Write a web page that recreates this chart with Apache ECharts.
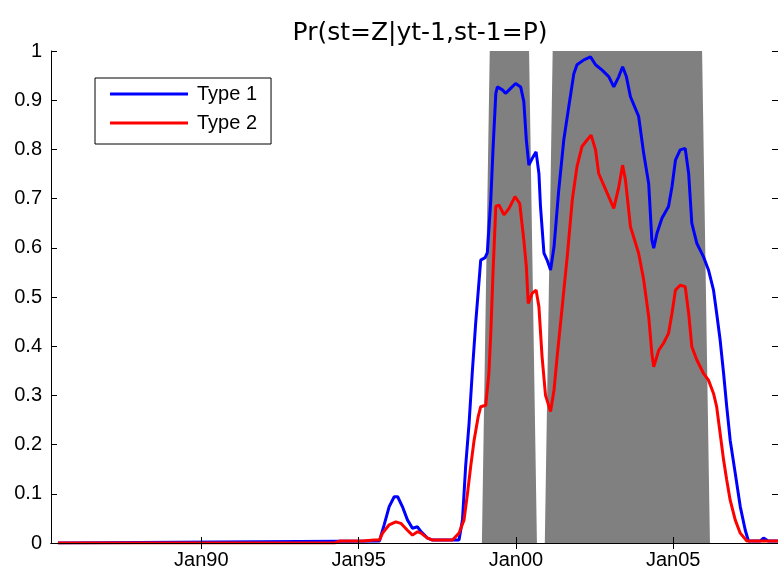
<!DOCTYPE html>
<html>
<head>
<meta charset="utf-8">
<script src="https://cdn.jsdelivr.net/npm/echarts@6/dist/echarts.min.js"></script>
<style>
html,body{margin:0;padding:0;background:#fff;}
#chart{width:778px;height:571px;}
</style>
</head>
<body>
<div id="chart"></div>
<script>
// ---- data (decimal years) ----
const titleText = 'Pr(st=Z|yt-1,st-1=P)';
const seriesNames = ['Type 1', 'Type 2'];
const tickYears = [1990, 1995, 2000, 2005];
const tickLabels = ['Jan90', 'Jan95', 'Jan00', 'Jan05'];

const type1Dates = [1985.44, 1995.66, 1995.81, 1995.97, 1996.13, 1996.24, 1996.39, 1996.55, 1996.71, 1996.87, 1996.98, 1997.19, 1997.35, 1998.09, 1998.19, 1998.30, 1998.40, 1998.51, 1998.61, 1998.72, 1998.83, 1998.88, 1999.02, 1999.09, 1999.20, 1999.27, 1999.36, 1999.41, 1999.57, 1999.67, 1999.83, 1999.99, 2000.15, 2000.25, 2000.33, 2000.41, 2000.52, 2000.64, 2000.73, 2000.78, 2000.89, 2000.99, 2001.10, 2001.21, 2001.36, 2001.52, 2001.68, 2001.84, 2001.94, 2002.16, 2002.37, 2002.53, 2002.74, 2002.95, 2003.11, 2003.27, 2003.39, 2003.51, 2003.64, 2003.90, 2004.06, 2004.22, 2004.32, 2004.38, 2004.48, 2004.64, 2004.85, 2004.96, 2005.07, 2005.22, 2005.38, 2005.49, 2005.59, 2005.75, 2005.96, 2006.12, 2006.28, 2006.38, 2006.49, 2006.60, 2006.70, 2006.81, 2006.97, 2007.13, 2007.29, 2007.39, 2007.76, 2007.87, 2008.02, 2008.33];
const type1Values = [0, 0.004, 0.037, 0.074, 0.094, 0.094, 0.074, 0.047, 0.03, 0.033, 0.023, 0.01, 0.006, 0.006, 0.006, 0.047, 0.155, 0.243, 0.345, 0.447, 0.535, 0.575, 0.58, 0.59, 0.697, 0.799, 0.914, 0.927, 0.921, 0.914, 0.924, 0.934, 0.927, 0.897, 0.819, 0.768, 0.782, 0.795, 0.751, 0.684, 0.589, 0.575, 0.555, 0.602, 0.717, 0.819, 0.887, 0.954, 0.972, 0.982, 0.988, 0.972, 0.961, 0.948, 0.927, 0.948, 0.968, 0.948, 0.907, 0.867, 0.792, 0.73, 0.616, 0.599, 0.629, 0.66, 0.684, 0.724, 0.778, 0.799, 0.802, 0.751, 0.65, 0.609, 0.582, 0.555, 0.514, 0.467, 0.413, 0.345, 0.277, 0.209, 0.142, 0.074, 0.026, 0.004, 0.004, 0.01, 0.004, 0.004];

const type2Dates = [1985.44, 1994.23, 1994.39, 1995.12, 1995.50, 1995.66, 1995.76, 1995.97, 1996.18, 1996.34, 1996.55, 1996.71, 1996.87, 1996.98, 1997.19, 1997.35, 1997.98, 1998.19, 1998.35, 1998.46, 1998.56, 1998.67, 1998.80, 1998.88, 1999.04, 1999.14, 1999.20, 1999.27, 1999.36, 1999.46, 1999.62, 1999.78, 1999.97, 2000.12, 2000.25, 2000.33, 2000.39, 2000.52, 2000.64, 2000.73, 2000.83, 2000.94, 2001.10, 2001.21, 2001.31, 2001.47, 2001.63, 2001.79, 2001.94, 2002.10, 2002.26, 2002.39, 2002.53, 2002.63, 2002.90, 2003.11, 2003.27, 2003.39, 2003.48, 2003.64, 2003.90, 2004.06, 2004.22, 2004.32, 2004.38, 2004.54, 2004.69, 2004.85, 2004.96, 2005.07, 2005.22, 2005.38, 2005.49, 2005.59, 2005.75, 2005.96, 2006.12, 2006.28, 2006.38, 2006.49, 2006.60, 2006.70, 2006.81, 2006.97, 2007.13, 2007.34, 2008.33];
const type2Values = [0, 0, 0.004, 0.004, 0.006, 0.006, 0.02, 0.037, 0.043, 0.04, 0.026, 0.016, 0.023, 0.02, 0.01, 0.006, 0.006, 0.02, 0.047, 0.101, 0.155, 0.209, 0.257, 0.277, 0.28, 0.345, 0.426, 0.548, 0.684, 0.687, 0.667, 0.68, 0.704, 0.69, 0.616, 0.562, 0.487, 0.508, 0.514, 0.48, 0.379, 0.30, 0.267, 0.311, 0.379, 0.48, 0.582, 0.697, 0.765, 0.806, 0.819, 0.829, 0.799, 0.751, 0.711, 0.68, 0.724, 0.768, 0.738, 0.643, 0.589, 0.535, 0.46, 0.386, 0.358, 0.392, 0.406, 0.426, 0.467, 0.514, 0.524, 0.521, 0.467, 0.399, 0.372, 0.345, 0.331, 0.304, 0.277, 0.223, 0.169, 0.128, 0.087, 0.047, 0.02, 0.004, 0.004];

// recession shading indicator (quarterly)
const shadeDates = [1998.917, 1999.167, 2000.417, 2000.667, 2000.917, 2001.167, 2005.917, 2006.167];
const shadeValues = [0, 1, 1, 0, 0, 1, 1, 0];

const xMin = 1985.22, xMax = 2008.33;

// ---- build ----
const zip = (xs, ys) => xs.map((x, i) => [x, ys[i]]);
const FONT = 'Liberation Sans';

const chart = echarts.init(document.getElementById('chart'), null, {renderer: 'canvas'});
const axisBase = {
  axisLine: {show: true, lineStyle: {color: '#000', width: 1}},
  splitLine: {show: false},
  z: 10
};
chart.setOption({
  backgroundColor: '#fff',
  animation: false,
  title: {
    text: titleText,
    left: 415, top: 16, textAlign: 'center',
    textStyle: {fontFamily: 'DejaVu Sans', fontSize: 25, fontWeight: 'normal', color: '#000'}
  },
  legend: {
    data: seriesNames,
    orient: 'vertical',
    left: 95, top: 78,
    padding: [6, 14, 11, 15],
    itemGap: 9,
    itemWidth: 78, itemHeight: 3,
    icon: 'rect',
    borderColor: '#000', borderWidth: 1,
    backgroundColor: '#fff',
    textStyle: {fontFamily: FONT, fontSize: 20, color: '#000', lineHeight: 20, padding: [0, 0, 0, 4]}
  },
  grid: {left: 51, top: 51, bottom: 28, width: 728.5},
  xAxis: [
    Object.assign({}, axisBase, {
      type: 'value', min: xMin, max: xMax, position: 'bottom',
      axisTick: {show: true, inside: true, length: 6, customValues: tickYears, lineStyle: {color: '#000'}},
      axisLabel: {show: true, customValues: tickYears, margin: 7,
        formatter: v => tickLabels[tickYears.indexOf(Math.round(v))] || '',
        fontFamily: FONT, fontSize: 20, color: '#000'}
    }),
    Object.assign({}, axisBase, {
      type: 'value', min: xMin, max: xMax, position: 'top',
      axisTick: {show: true, inside: true, length: 6, customValues: tickYears, lineStyle: {color: '#000'}},
      axisLabel: {show: false}
    })
  ],
  yAxis: [
    Object.assign({}, axisBase, {
      type: 'value', min: 0, max: 1, interval: 0.1, position: 'left',
      axisTick: {show: true, inside: true, length: 6, lineStyle: {color: '#000'}},
      axisLabel: {show: true, margin: 9, fontFamily: FONT, fontSize: 20, color: '#000',
        formatter: v => String(Math.round(v * 10) / 10)}
    }),
    Object.assign({}, axisBase, {
      type: 'value', min: 0, max: 1, interval: 0.1, position: 'right',
      axisTick: {show: true, inside: true, length: 6, lineStyle: {color: '#000'}},
      axisLabel: {show: false}
    })
  ],
  series: [
    {
      name: 'shade', type: 'line', data: zip(shadeDates, shadeValues),
      symbol: 'none', silent: true, lineStyle: {width: 0, color: '#808080'},
      itemStyle: {color: '#808080'},
      areaStyle: {color: '#808080', opacity: 1}, z: 1
    },
    {
      name: seriesNames[0], type: 'line', data: zip(type1Dates, type1Values),
      symbol: 'none', lineStyle: {width: 3, color: '#0000ff'}, itemStyle: {color: '#0000ff'}, z: 3
    },
    {
      name: seriesNames[1], type: 'line', data: zip(type2Dates, type2Values),
      symbol: 'none', lineStyle: {width: 3, color: '#ff0000'}, itemStyle: {color: '#ff0000'}, z: 4
    }
  ]
});
</script>
</body>
</html>
